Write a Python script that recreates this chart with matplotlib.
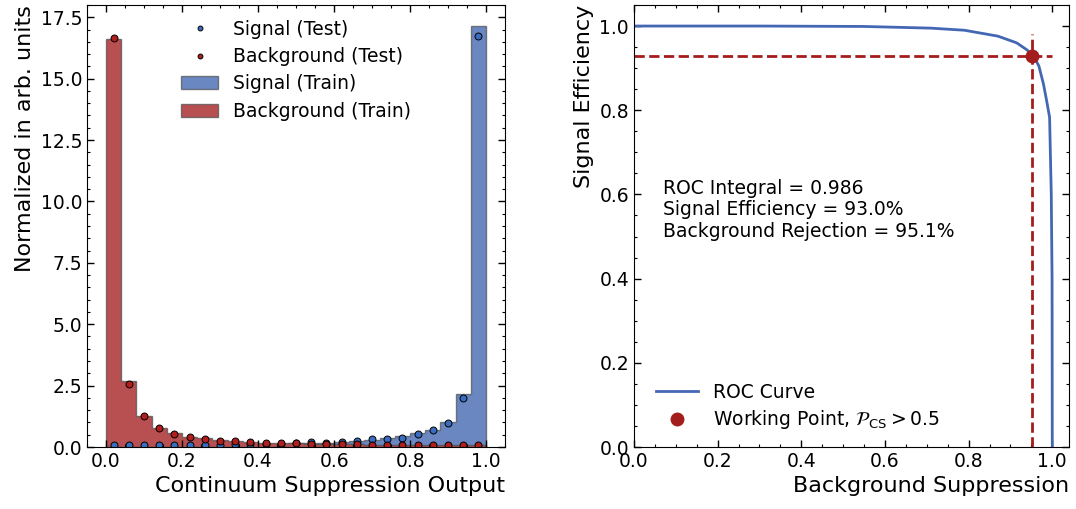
"""
cs_output.py

continuum suppression classifier output (train vs test) and the ROC curve
with the chosen working point marked.
"""

import numpy as np
import matplotlib
matplotlib.use('Agg')
import matplotlib.pyplot as plt
from matplotlib.ticker import AutoMinorLocator

# 25 bins between 0 and 1
bin_edges = np.linspace(0, 1, 26)

sig_train = [0.08, 0.09, 0.09, 0.10, 0.10, 0.10, 0.11, 0.11, 0.12, 0.13, 0.13, 0.14, 0.15,
             0.17, 0.18, 0.21, 0.24, 0.30, 0.38, 0.45, 0.56, 0.69, 1.00, 2.15, 17.15]
bkg_train = [16.62, 2.70, 1.26, 0.76, 0.56, 0.42, 0.35, 0.28, 0.24, 0.21, 0.18, 0.16, 0.15,
             0.14, 0.13, 0.12, 0.11, 0.10, 0.10, 0.09, 0.09, 0.08, 0.08, 0.08, 0.08]
sig_test = [0.08, 0.09, 0.09, 0.09, 0.10, 0.10, 0.10, 0.10, 0.11, 0.12, 0.13, 0.14, 0.15,
            0.19, 0.15, 0.22, 0.24, 0.31, 0.31, 0.38, 0.53, 0.68, 0.98, 2.00, 16.75]
bkg_test = [16.65, 2.55, 1.25, 0.76, 0.53, 0.39, 0.33, 0.26, 0.23, 0.19, 0.18, 0.17, 0.15,
            0.14, 0.12, 0.14, 0.11, 0.10, 0.09, 0.09, 0.09, 0.08, 0.08, 0.08, 0.08]

# ROC curve
bkg_supp = [0.0, 0.3, 0.55, 0.71, 0.79, 0.87, 0.915, 0.94, 0.955, 0.968, 0.979, 0.987,
            0.9936, 0.9976, 0.9995, 1.0]
sig_eff = [1.0, 1.0, 0.999, 0.995, 0.990, 0.976, 0.960, 0.943, 0.929, 0.905, 0.862, 0.82,
           0.783, 0.6, 0.4, 0.0]
wp_x, wp_y = 0.951, 0.930
roc_integral = 0.986

c_sig = '#6a87c2'
c_bkg = '#b85052'
c_sig_pt = '#3a6cc0'
c_bkg_pt = '#b01e1e'
c_roc = '#4467b4'
c_wp = '#a31d1d'
edge = (0.3, 0.3, 0.3, 0.7)

plt.rcParams['font.family'] = 'DejaVu Sans'
plt.rcParams['mathtext.fontset'] = 'dejavusans'


def style_axes(ax):
    ax.xaxis.set_minor_locator(AutoMinorLocator())
    ax.yaxis.set_minor_locator(AutoMinorLocator())
    ax.tick_params(which='both', direction='in', top=True, right=True, labelsize=13.5)
    ax.tick_params(which='major', length=5, width=1)
    ax.tick_params(which='minor', length=2.5, width=0.8)


fig = plt.figure(figsize=(10.76, 5.09), dpi=100)
ax1 = fig.add_axes([0.0809, 0.1218, 0.3885, 0.8684])
ax2 = fig.add_axes([0.5892, 0.1218, 0.4043, 0.8684])

centers = 0.5 * (bin_edges[:-1] + bin_edges[1:])

ax1.hist(centers, bins=bin_edges, weights=sig_train, histtype='stepfilled',
         facecolor=c_sig, edgecolor=edge, linewidth=1, label='Signal (Train)')
ax1.hist(centers, bins=bin_edges, weights=bkg_train, histtype='stepfilled',
         facecolor=c_bkg, edgecolor=edge, linewidth=1, label='Background (Train)')
ax1.plot(centers, sig_test, 'o', color=c_sig_pt, mec='k', mew=0.7, ms=5, label='Signal (Test)')
ax1.plot(centers, bkg_test, 'o', color=c_bkg_pt, mec='k', mew=0.7, ms=5, label='Background (Test)')

ax1.set_xlim(-0.05, 1.05)
ax1.set_ylim(0, 18)
ax1.set_xticks([0.0, 0.2, 0.4, 0.6, 0.8, 1.0])
ax1.set_yticks(np.arange(0, 17.6, 2.5))
style_axes(ax1)
ax1.set_xlabel('Continuum Suppression Output', fontsize=16, loc='right')
ax1.set_ylabel('Normalized in arb. units', fontsize=16, loc='top')

h, l = ax1.get_legend_handles_labels()
order = [2, 3, 0, 1]
ax1.legend([h[i] for i in order], [l[i] for i in order], loc='upper center',
           frameon=False, fontsize=13.5, markerscale=0.7, handlelength=2.0,
           labelspacing=0.44, bbox_to_anchor=(0.5, 1.0), borderaxespad=0.4)

ax2.plot(bkg_supp, sig_eff, color=c_roc, lw=2, label='ROC Curve')
ax2.plot([0, 1.0], [wp_y, wp_y], '--', color=c_wp, lw=2)
ax2.plot([wp_x, wp_x], [0, 0.98], '--', color=c_wp, lw=2)
ax2.plot(wp_x, wp_y, 'o', color=c_wp, ms=9, label=r'Working Point, $\mathcal{P}_{\mathrm{CS}} > 0.5$')

ax2.text(0.07, 0.614, f'ROC Integral = {roc_integral:.3f}', fontsize=13.5, va='center')
ax2.text(0.07, 0.563, f'Signal Efficiency = {wp_y * 100:.1f}%', fontsize=13.5, va='center')
ax2.text(0.07, 0.513, f'Background Rejection = {wp_x * 100:.1f}%', fontsize=13.5, va='center')

ax2.set_xlim(0, 1.04)
ax2.set_ylim(0, 1.05)
ax2.set_xticks([0.0, 0.2, 0.4, 0.6, 0.8, 1.0])
ax2.set_yticks([0.0, 0.2, 0.4, 0.6, 0.8, 1.0])
style_axes(ax2)
ax2.set_xlabel('Background Suppression', fontsize=16, loc='right')
ax2.set_ylabel('Signal Efficiency', fontsize=16, loc='top')
ax2.legend(loc='lower left', frameon=False, fontsize=13.5, handlelength=2.2,
           borderaxespad=0.45, labelspacing=0.35, bbox_to_anchor=(0.015, 0.0))

fig.savefig('out.png', dpi=100)
